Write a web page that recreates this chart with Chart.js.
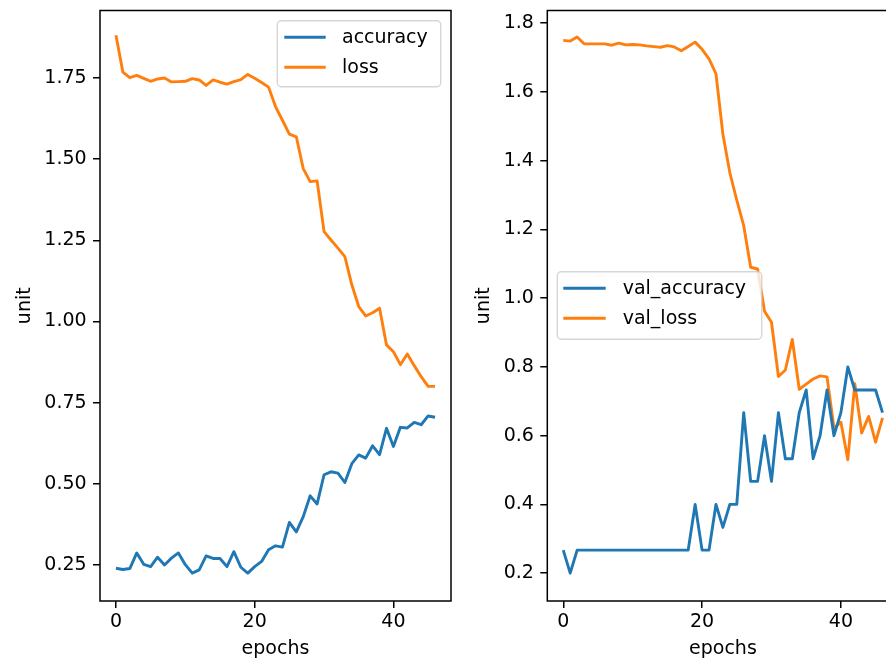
<!DOCTYPE html>
<html>
<head>
<meta charset="utf-8">
<script src="https://cdn.jsdelivr.net/npm/chart.js@4.4.1/dist/chart.umd.min.js"></script>
<style>
html,body{margin:0;padding:0;background:#fff;overflow:hidden;width:886px;height:664px;}
#wrap{position:relative;width:886px;height:664px;overflow:hidden;background:#fff;}
canvas{position:absolute;top:0;}
#c1{left:0;}
#c2{left:460px;}
</style>
</head>
<body>
<div id="wrap">
<canvas id="c1" width="460" height="664"></canvas>
<canvas id="c2" width="460" height="664"></canvas>
</div>
<script>
// ---- data ----
const accuracy = [0.240,0.236,0.239,0.287,0.252,0.245,0.274,0.250,0.271,0.287,
  0.251,0.225,0.235,0.278,0.270,0.270,0.245,0.291,0.243,0.225,
  0.245,0.261,0.297,0.309,0.305,0.381,0.352,0.399,0.463,0.438,
  0.528,0.537,0.533,0.504,0.562,0.589,0.579,0.617,0.590,0.671,
  0.615,0.674,0.672,0.689,0.682,0.709,0.705];
const loss = [1.882,1.768,1.751,1.758,1.749,1.740,1.747,1.750,1.738,1.739,
  1.740,1.748,1.744,1.727,1.744,1.737,1.731,1.739,1.745,1.761,
  1.749,1.736,1.722,1.662,1.620,1.577,1.569,1.471,1.431,1.433,
  1.277,1.251,1.226,1.200,1.113,1.046,1.017,1.027,1.041,0.928,
  0.907,0.867,0.900,0.864,0.830,0.800,0.800];
const valAccuracy = [0.267,0.200,0.267,0.267,0.267,0.267,0.267,0.267,0.267,0.267,
  0.267,0.267,0.267,0.267,0.267,0.267,0.267,0.267,0.267,0.400,
  0.267,0.267,0.400,0.333,0.400,0.400,0.667,0.467,0.467,0.600,
  0.467,0.667,0.533,0.533,0.667,0.733,0.533,0.600,0.733,0.600,
  0.667,0.800,0.733,0.733,0.733,0.733,0.667];
const valLoss = [1.750,1.748,1.760,1.740,1.740,1.740,1.740,1.736,1.742,1.737,
  1.738,1.737,1.734,1.732,1.730,1.735,1.731,1.720,1.732,1.745,
  1.724,1.696,1.653,1.477,1.365,1.285,1.211,1.090,1.085,0.962,
  0.930,0.772,0.791,0.880,0.735,0.750,0.765,0.774,0.771,0.623,
  0.639,0.530,0.751,0.608,0.656,0.581,0.652];
const xTicks = [0, 20, 40];
const leftYTicks = [0.25, 0.50, 0.75, 1.00, 1.25, 1.50, 1.75];
const rightYTicks = [0.2, 0.4, 0.6, 0.8, 1.0, 1.2, 1.4, 1.6, 1.8];
const leftLabels = ['accuracy', 'loss'];
const rightLabels = ['val_accuracy', 'val_loss'];

// ---- styling ----
const BLUE = '#1f77b4', ORANGE = '#ff7f0e';
const FONT = {family: '"DejaVu Sans", sans-serif', size: 19};

function series(label, values, color) {
  return {
    label: label,
    data: values.map((v, i) => ({x: i, y: v})),
    borderColor: color,
    backgroundColor: color,
    borderWidth: 2.9,
    pointRadius: 0,
    pointHoverRadius: 0,
    tension: 0,
    fill: false,
    borderJoinStyle: 'round',
    borderCapStyle: 'butt'
  };
}

function roundRectPath(ctx, x, y, w, h, r) {
  ctx.beginPath();
  ctx.moveTo(x + r, y);
  ctx.lineTo(x + w - r, y);
  ctx.arcTo(x + w, y, x + w, y + r, r);
  ctx.lineTo(x + w, y + h - r);
  ctx.arcTo(x + w, y + h, x + w - r, y + h, r);
  ctx.lineTo(x + r, y + h);
  ctx.arcTo(x, y + h, x, y + h - r, r);
  ctx.lineTo(x, y + r);
  ctx.arcTo(x, y, x + r, y, r);
  ctx.closePath();
}

const framePlugin = {
  id: 'frame',
  afterDatasetsDraw(chart) {
    const a = chart.chartArea, ctx = chart.ctx;
    ctx.save();
    ctx.strokeStyle = '#000';
    ctx.lineWidth = 1.5;
    ctx.strokeRect(a.left, a.top, a.right - a.left, a.bottom - a.top);
    ctx.restore();
  }
};

const legendPlugin = {
  id: 'mplLegend',
  afterDraw(chart, args, o) {
    const ctx = chart.ctx;
    ctx.save();
    roundRectPath(ctx, o.x, o.y, o.w, o.h, 4);
    ctx.fillStyle = 'rgba(255,255,255,0.8)';
    ctx.fill();
    ctx.strokeStyle = 'rgba(204,204,204,0.8)';
    ctx.lineWidth = 1.4;
    ctx.stroke();
    chart.data.datasets.forEach((ds, i) => {
      const yy = o.rows[i];
      ctx.beginPath();
      ctx.moveTo(o.handleX, yy);
      ctx.lineTo(o.handleX + o.handleLen, yy);
      ctx.strokeStyle = ds.borderColor;
      ctx.lineWidth = ds.borderWidth;
      ctx.lineCap = 'butt';
      ctx.stroke();
      ctx.fillStyle = '#000';
      ctx.font = '19px "DejaVu Sans", sans-serif';
      ctx.textAlign = 'left';
      ctx.textBaseline = 'alphabetic';
      ctx.fillText(ds.label, o.textX, yy + 5.7);
    });
    ctx.restore();
  }
};

function makeScales(yMin, yMax, yTicks, decimals, yWidth, titlePad) {
  return {
    x: {
      type: 'linear', min: -2.3, max: 48.3, bounds: 'data',
      afterBuildTicks: s => { s.ticks = xTicks.map(v => ({value: v})); },
      afterFit: s => { s.height = 63; s.paddingLeft = 0; s.paddingRight = 0; },
      grid: {display: true, drawOnChartArea: false, drawTicks: true, tickLength: 7, color: '#000', lineWidth: 1.5},
      border: {display: false},
      ticks: {color: '#000', font: FONT, padding: 3, maxRotation: 0, autoSkip: false,
              callback: v => String(v)},
      title: {display: true, text: 'epochs', color: '#000', font: FONT, padding: {top: 0, bottom: 3.2}}
    },
    y: {
      type: 'linear', min: yMin, max: yMax, bounds: 'data',
      afterBuildTicks: s => { s.ticks = yTicks.map(v => ({value: v})); },
      afterFit: s => { s.width = yWidth; s.paddingTop = 0; s.paddingBottom = 0; },
      grid: {display: true, drawOnChartArea: false, drawTicks: true, tickLength: 7, color: '#000', lineWidth: 1.5},
      border: {display: false},
      ticks: {color: '#000', font: FONT, padding: 6.4, autoSkip: false,
              callback: v => Number(v).toFixed(decimals)},
      title: {display: true, text: 'unit', color: '#000', font: FONT, padding: {top: titlePad, bottom: 0}}
    }
  };
}

function baseOptions(pad, scales, legendOpts) {
  return {
    responsive: false,
    animation: false,
    devicePixelRatio: 1,
    layout: {padding: pad},
    events: [],
    plugins: {
      legend: {display: false},
      tooltip: {enabled: false},
      mplLegend: legendOpts
    },
    scales: scales
  };
}

new Chart(document.getElementById('c1'), {
  type: 'line',
  data: {datasets: [series(leftLabels[0], accuracy, BLUE), series(leftLabels[1], loss, ORANGE)]},
  options: baseOptions({left: 0, top: 10.5, right: 9, bottom: 0},
    makeScales(0.139, 1.958, leftYTicks, 2, 100, 13.7),
    {x: 277.3, y: 20.7, w: 163.4, h: 66, handleX: 284.3, handleLen: 41.4, textX: 342, rows: [37.3, 67.3]}),
  plugins: [framePlugin, legendPlugin]
});

new Chart(document.getElementById('c2'), {
  type: 'line',
  data: {datasets: [series(rightLabels[0], valAccuracy, BLUE), series(rightLabels[1], valLoss, ORANGE)]},
  options: baseOptions({left: 0, top: 10.5, right: 21.5, bottom: 0},
    makeScales(0.119, 1.837, rightYTicks, 1, 87.3, 13.1),
    {x: 97.3, y: 271.7, w: 204.4, h: 67.6, handleX: 103.3, handleLen: 42.4, textX: 162.7, rows: [288.3, 318.3]}),
  plugins: [framePlugin, legendPlugin]
});
</script>
</body>
</html>
